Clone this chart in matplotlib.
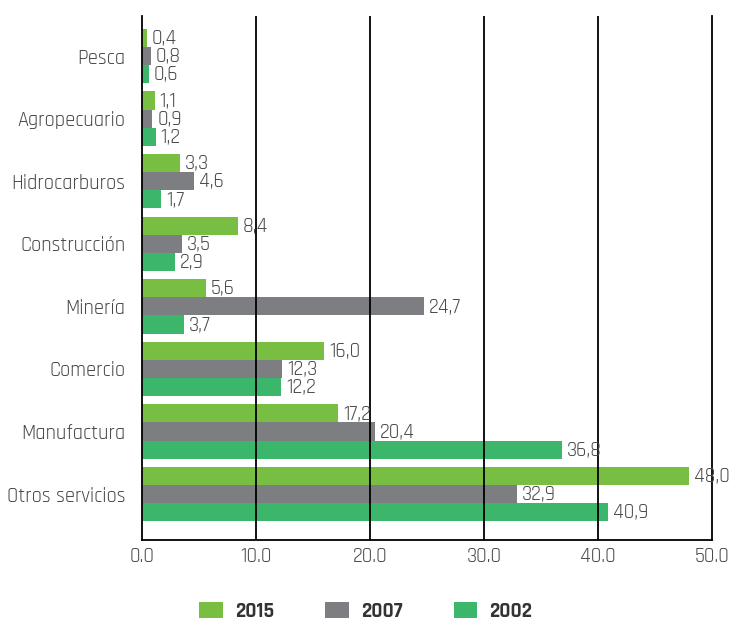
import numpy as np
import matplotlib.pyplot as plt
from matplotlib.patches import Patch

# sector shares (%), listed bottom-to-top as drawn
sectors = ["Otros servicios", "Manufactura", "Comercio", "Minería",
           "Construcción", "Hidrocarburos", "Agropecuario", "Pesca"]
v2015 = [48.0, 17.2, 16.0, 5.6, 8.4, 3.3, 1.1, 0.4]
v2007 = [32.9, 20.4, 12.3, 24.7, 3.5, 4.6, 0.9, 0.8]
v2002 = [40.9, 36.8, 12.2, 3.7, 2.9, 1.7, 1.2, 0.6]
years = ["2015", "2007", "2002"]
colors = ["#77be43", "#7d7e82", "#3bb66a"]
xticks = [0, 10, 20, 30, 40, 50]

font = ["Rajdhani", "Roboto Condensed", "DejaVu Sans"]
txt_color = "#4a4a4a"
fs = 14.8

fig = plt.figure(figsize=(7.29, 6.21), dpi=100)
ax = fig.add_axes([0.1948, 0.1304, 0.7819, 0.8438])

y = np.arange(len(sectors))
h = 0.29
for vals, off, c in zip([v2015, v2007, v2002], [h, 0, -h], colors):
    bars = ax.barh(y + off, vals, height=h, color=c, zorder=1)
    for b, v in zip(bars, vals):
        ax.annotate(f"{v:.1f}".replace(".", ","),
                    (b.get_width(), b.get_y() + b.get_height() / 2),
                    xytext=(3.5, 0), textcoords="offset points",
                    va="center", ha="left", fontsize=fs,
                    color=txt_color, family=font, zorder=3,
                    annotation_clip=False)

ax.set_xlim(0, 50)
ax.set_ylim(-0.735, len(sectors) - 1 + 0.64)
ax.set_xticks(xticks)
ax.set_xticklabels([f"{t:.1f}" for t in xticks], family=font,
                   fontsize=fs, color=txt_color)
ax.set_yticks(y)
ax.set_yticklabels(sectors, family=font, fontsize=fs, color=txt_color)
ax.tick_params(axis="x", length=0, pad=5)
ax.tick_params(axis="y", length=0, pad=12)

for xv in xticks[1:-1]:
    ax.axvline(xv, color="black", lw=1.3, zorder=2)
ax.spines["top"].set_visible(False)
for side in ["left", "bottom", "right"]:
    ax.spines[side].set_linewidth(1.3)
    ax.spines[side].set_color("black")

handles = [Patch(facecolor=c, edgecolor="none") for c in colors]
fig.legend(handles, years, loc="center", bbox_to_anchor=(0.502, 0.016),
           ncol=3, frameon=False, handlelength=1.12, handleheight=0.85,
           handletextpad=0.6, columnspacing=2.45,
           prop={"family": font, "size": 15, "weight": "bold"},
           labelcolor="#333333")

fig.savefig("out.png", dpi=100)
plt.close(fig)
